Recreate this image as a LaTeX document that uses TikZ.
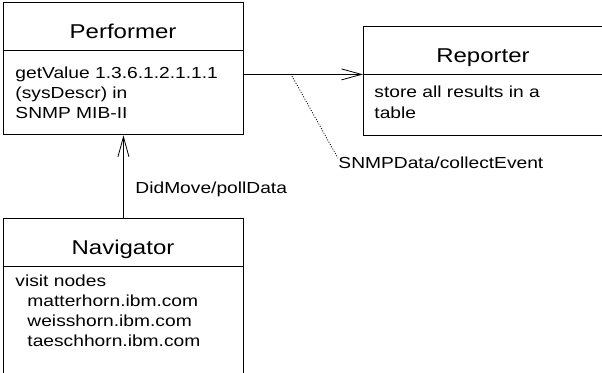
\documentclass[tikz,border=0pt]{standalone}
\usepackage{fontspec}
\setmainfont{Liberation Sans}[FakeStretch=1.2]
\usetikzlibrary{arrows.meta}
\begin{document}
\begin{tikzpicture}[x=1pt,y=-1pt,
  line width=0.9pt,
  classhead/.style={draw, rectangle, anchor=north west, minimum width=240pt,
    minimum height=47.5pt, inner sep=0pt},
  classbody/.style={draw, rectangle, anchor=north west, minimum width=240pt,
    inner sep=0pt},
  titletext/.style={anchor=base, inner sep=0pt, font=\fontsize{20}{24}\selectfont},
  bodytext/.style={anchor=base west, inner sep=0pt, font=\fontsize{16}{20}\selectfont},
  msg/.style={line width=0.8pt, -{Straight Barb[length=20pt,width=11pt,line width=0.8pt]}},
]
\useasboundingbox (0,0) rectangle (602,372);
\clip (0,0) rectangle (602,372);

% Performer class
\node[classhead] (perfhead) at (3,2) {};
\node[classbody, minimum height=84pt] (perfbody) at (perfhead.south west) {};
\node[titletext] (perftitle) at (123,38) {Performer};
\node[bodytext] (perfl1) at (15,78) {getValue 1.3.6.1.2.1.1.1};
\node[bodytext] (perfl2) at (15,98) {(sysDescr) in};
\node[bodytext] (perfl3) at (15,118) {SNMP MIB-II};

% Reporter class (runs past the right edge)
\node[classhead, minimum width=250pt] (rephead) at (363,26) {};
\node[classbody, minimum width=250pt, minimum height=61pt] (repbody) at (rephead.south west) {};
\node[titletext] (reptitle) at (483,62) {Reporter};
\node[bodytext] (repl1) at (374,97) {store all results in a};
\node[bodytext] (repl2) at (374,118) {table};

% Navigator class (runs past the lower edge)
\node[classhead] (navhead) at (3,218) {};
\node[classbody, minimum height=140pt] (navbody) at (navhead.south west) {};
\node[titletext] (navtitle) at (123,254) {Navigator};
\node[bodytext] (navl1) at (15,286) {visit nodes};
\node[bodytext] (navl2) at (27,306) {matterhorn.ibm.com};
\node[bodytext] (navl3) at (27,326) {weisshorn.ibm.com};
\node[bodytext] (navl4) at (27,346) {taeschhorn.ibm.com};

% Messages
\draw[msg] (navhead.north) -- (perfbody.south);
\node[bodytext] (pollmsg) at (135,193) {DidMove/pollData};

\draw[msg] (perfbody.east |- repbody.north west) -- (repbody.north west);
\coordinate (dotstart) at (292,76);
\node[bodytext] (collectmsg) at (338,168) {SNMPData/collectEvent};
\draw[line width=0.8pt, dash pattern=on 1pt off 1.6pt] (dotstart) -- ([yshift=4pt]collectmsg.west);
\end{tikzpicture}
\end{document}
